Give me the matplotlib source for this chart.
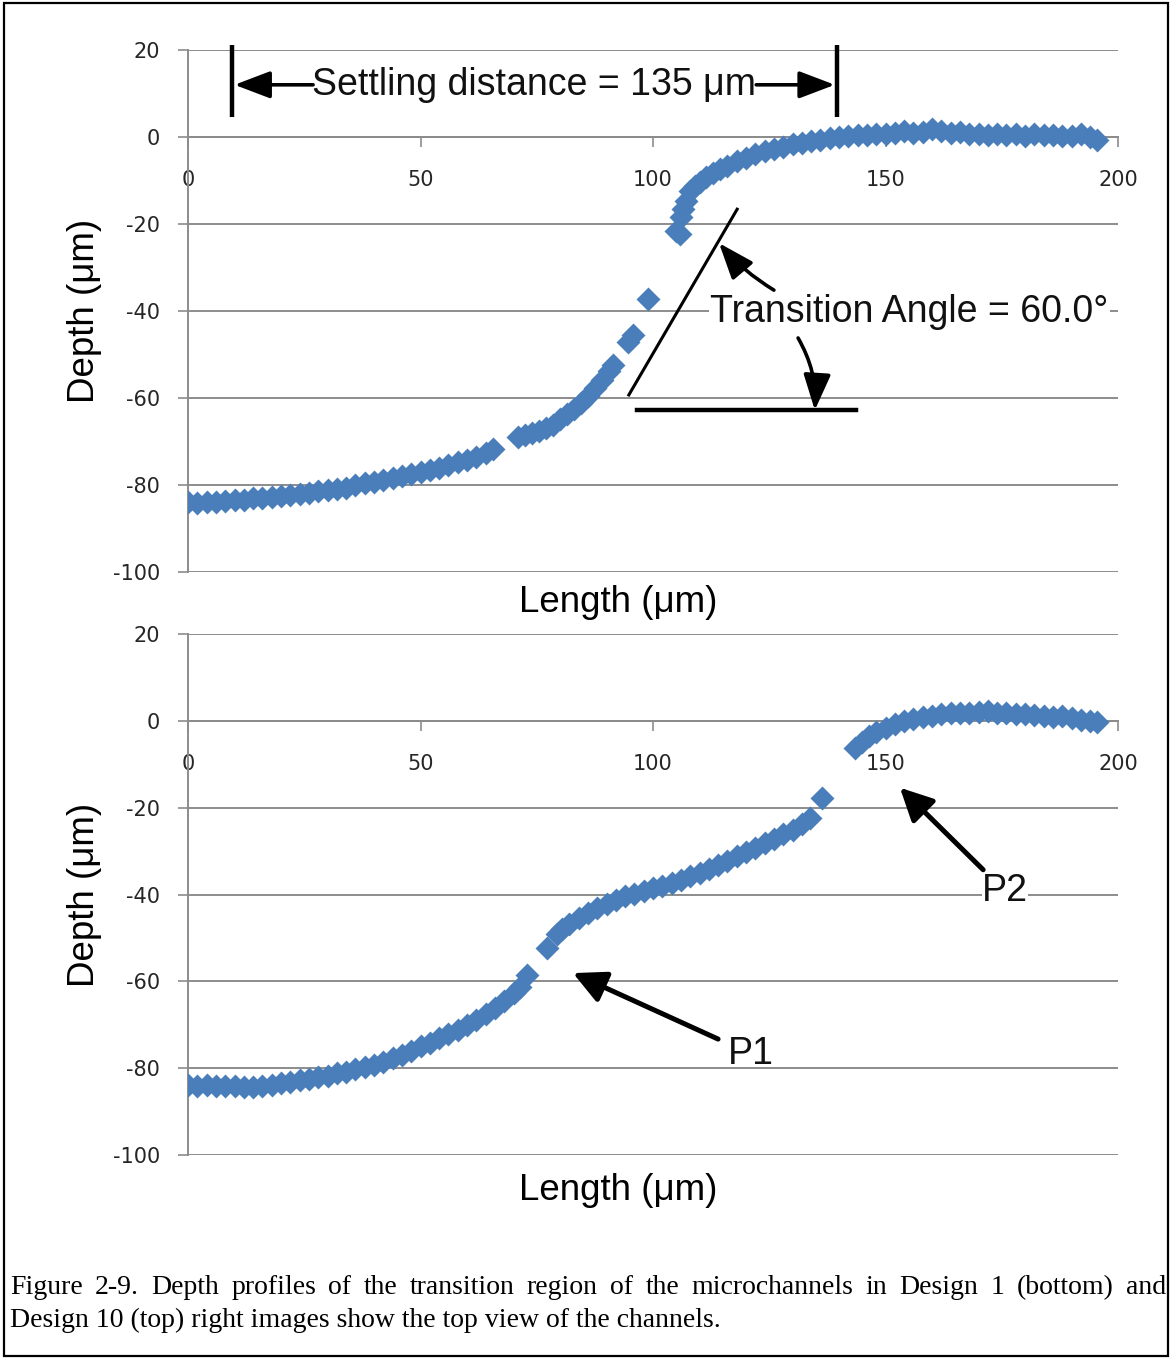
import matplotlib
matplotlib.use("Agg")
import matplotlib.pyplot as plt
from matplotlib.patches import Rectangle

plt.rcParams['axes.unicode_minus'] = False

# ---------------- data ----------------
# Design 10 (top panel)
top_x = [0, 2, 4, 6, 8, 10, 12, 14, 16, 18, 20, 22, 24, 26, 28, 30, 32, 34, 36, 38,
         40, 42, 44, 46, 48, 50, 52, 54, 56, 58, 60, 62, 64, 65.5,
         71, 72.5, 74, 75.5, 77, 78.5, 80, 81.5, 83, 84.5, 86, 87.5, 89, 90.5, 91.5,
         94.6, 95.7, 98.9, 105.0, 105.8,
         106, 106.5, 107, 108, 109, 110, 111.5, 113, 114.5, 116, 118, 120, 122, 124,
         126, 128, 130, 132, 134, 136, 138, 140, 142, 144, 146, 148, 150, 152, 154,
         156, 158, 160, 162, 164, 166, 168, 170, 172, 174, 176, 178, 180, 182, 184,
         186, 188, 190, 192, 194, 195.5]
top_y = [-84.0, -84.2, -84.0, -83.8, -83.7, -83.5, -83.4, -83.1, -82.9, -82.7, -82.6, -82.3,
         -82.1, -81.8, -81.4, -81.2, -80.9, -80.6, -80.1, -79.6, -79.3, -78.9, -78.5, -78.0,
         -77.5, -77.1, -76.6, -76.0, -75.4, -74.8, -74.3, -73.6, -72.6, -71.8,
         -69.0, -68.4, -68.0, -67.5, -66.9, -66.1, -64.8, -63.6, -62.5, -61.2, -59.5, -57.6,
         -55.8, -53.8, -52.3,
         -47.1, -45.5, -37.2, -21.6, -22.4,
         -18.4, -16.5, -14.8, -12.5, -11.2, -10.3, -9.2, -8.2, -7.3, -6.6, -5.6, -4.8, -4.0,
         -3.3, -2.8, -2.2, -1.6, -1.3, -0.9, -0.6, -0.2, 0.0, 0.3, 0.5, 0.4, 0.8, 0.7, 1.0,
         1.4, 0.9, 1.2, 1.8, 1.3, 0.9, 1.1, 0.6, 0.7, 0.4, 0.8, 0.5, 0.6, 0.3, 0.7, 0.4,
         0.5, 0.2, 0.3, 0.6, 0.1, -0.6]

# Design 1 (bottom panel)
bot_x = [0, 2, 4, 6, 8, 10, 12, 14, 16, 18, 20, 22, 24, 26, 28, 30, 32, 34, 36, 38,
         40, 42, 44, 46, 48, 50, 52, 54, 56, 58, 60, 62, 64, 66, 68, 70, 71.5, 73,
         77.2,
         79.3, 80.5, 82, 84, 86, 88, 90, 92, 94, 96, 98, 100, 102, 104, 106, 108, 110,
         112, 114, 116, 118, 120, 122, 124, 126, 128, 130, 132, 133.8,
         136.4,
         143.5, 145, 146.5, 148, 150, 152, 154, 156, 158, 160, 162, 164, 166, 168, 170,
         172, 174, 176, 178, 180, 182, 184, 186, 188, 190, 192, 194, 195.5]
bot_y = [-83.9, -84.1, -83.9, -84.2, -84.0, -84.1, -84.3, -84.4, -84.2, -83.8, -83.4, -83.2,
         -82.8, -82.5, -82.1, -81.7, -81.2, -80.8, -80.3, -79.8, -79.3, -78.6, -77.7, -76.9,
         -76.0, -75.0, -74.1, -73.1, -72.2, -71.2, -70.0, -68.9, -67.6, -66.2, -64.6, -62.8,
         -61.2, -58.5,
         -52.3,
         -49.1, -48.0, -46.8, -45.5, -44.3, -43.2, -42.2, -41.2, -40.4, -39.8, -39.1, -38.6,
         -38.0, -37.4, -36.6, -35.8, -35.0, -34.2, -33.3, -32.2, -31.2, -30.3, -29.4, -28.2,
         -27.2, -26.1, -25.1, -23.8, -22.4,
         -17.7,
         -6.3, -4.8, -3.6, -2.6, -1.6, -0.8, -0.1, 0.5, 0.9, 1.2, 1.5, 1.7, 1.8, 1.9, 2.1,
         2.2, 1.9, 1.8, 1.6, 1.5, 1.3, 1.0, 0.8, 1.1, 0.6, 0.3, -0.1, -0.3]

x_ticks = [0, 50, 100, 150, 200]
y_ticks = [-100, -80, -60, -40, -20, 0, 20]
x_label = "Length (\u03bcm)"
y_label = "Depth (\u03bcm)"
caption_line1 = ("Figure 2-9. Depth profiles of the transition region of the microchannels "
                 "in Design 1 (bottom) and")
caption_line2 = "Design 10 (top) right images show the top view of the channels."

# ---------------- styling ----------------
W, H = 1171, 1359
BLUE = '#4A7EBB'
GRID = '#8C8C8C'
TICK_FONT = 'DejaVu Sans'
LABEL_FONT = 'Liberation Sans'

fig = plt.figure(figsize=(W / 100, H / 100), dpi=100)
ax1 = fig.add_axes([188 / W, 1 - 572 / H, 930 / W, 522 / H])
ax2 = fig.add_axes([188 / W, 1 - 1155 / H, 930 / W, 521 / H])


def style(ax, xs, ys, xlabel_y):
    ax.set_xlim(0, 200)
    ax.set_ylim(-100, 20)
    ax.set_axisbelow(True)
    ax.grid(axis='y', color=GRID, lw=1.4)
    ax.grid(axis='x', visible=False)
    ax.set_xticks(x_ticks)
    ax.set_yticks(y_ticks)
    for s in ('top', 'right'):
        ax.spines[s].set_visible(False)
    ax.spines['left'].set_color(GRID)
    ax.spines['left'].set_linewidth(1.4)
    ax.spines['bottom'].set_position(('data', 0))
    ax.spines['bottom'].set_color(GRID)
    ax.spines['bottom'].set_linewidth(1.4)
    ax.tick_params(axis='y', length=7, width=1.2, color=GRID, pad=13,
                   labelsize=15, labelcolor='#262626')
    ax.tick_params(axis='x', direction='out', length=7, width=1.2, color=GRID, pad=17,
                   labelsize=15, labelcolor='#262626')
    for lab in ax.get_xticklabels() + ax.get_yticklabels():
        lab.set_fontfamily(TICK_FONT)
    ax.plot(xs, ys, 'D', ms=12, color=BLUE, mec='none', zorder=3)
    ax.text(0.463, xlabel_y, x_label, transform=ax.transAxes, ha='center', va='center',
            fontsize=26.5, family=LABEL_FONT)
    ax.text(-0.111, 0.5, y_label, transform=ax.transAxes, ha='center', va='center',
            rotation=90, fontsize=26.5, family=LABEL_FONT)


style(ax1, top_x, top_y, -0.0575)
style(ax2, bot_x, bot_y, -0.0672)

# ---------------- annotations, top panel ----------------
ANN = dict(fontsize=27, family=LABEL_FONT, color='#111111')
bar_y = (4.6, 21.1)
settle_left, settle_right = 9.5, 139.6
settle_y = 12.0
for bx in (settle_left, settle_right):
    ax1.plot([bx, bx], bar_y, color='black', lw=3.2, solid_capstyle='butt',
             clip_on=False, zorder=5)
ax1.text(74.5, settle_y, "Settling distance = 135 \u03bcm", ha='center', va='center',
         zorder=6, **ANN)
arrow_kw = dict(arrowstyle='-|>,head_length=1.0,head_width=0.38', lw=2.6, color='black',
                mutation_scale=22, shrinkA=0, shrinkB=0)
ax1.annotate('', xy=(settle_left + 0.5, settle_y), xytext=(26.9, settle_y),
             arrowprops=arrow_kw, annotation_clip=False, zorder=5)
ax1.annotate('', xy=(settle_right - 0.5, settle_y), xytext=(122.2, settle_y),
             arrowprops=arrow_kw, annotation_clip=False, zorder=5)

ax1.plot([94.8, 118.1], [-59.3, -16.6], color='black', lw=2.2, zorder=5)
ax1.plot([96.6, 143.7], [-62.8, -62.8], color='black', lw=3.2, zorder=5)
ax1.text(112.3, -40.2, "Transition Angle = 60.0\u00b0", ha='left', va='center', zorder=6,
         bbox=dict(fc='white', ec='none', pad=1), **ANN)
ax1.annotate('', xy=(114.2, -24.4), xytext=(126.0, -35.2),
             arrowprops=dict(arrow_kw, connectionstyle='arc3,rad=-0.08'), zorder=5)
ax1.annotate('', xy=(134.8, -62.8), xytext=(131.2, -46.2),
             arrowprops=dict(arrow_kw, connectionstyle='arc3,rad=-0.15'), zorder=5)

# ---------------- annotations, bottom panel ----------------
thick = dict(arrow_kw, lw=3.6, arrowstyle='-|>,head_length=0.9,head_width=0.45')
ax2.annotate('', xy=(82.8, -58.1), xytext=(114.0, -73.3), arrowprops=thick, zorder=5)
ax2.text(121.1, -76.7, "P1", ha='center', va='center', zorder=6, **ANN)
ax2.annotate('', xy=(153.1, -15.4), xytext=(171.0, -34.3), arrowprops=thick, zorder=5)
ax2.text(175.7, -39.1, "P2", ha='center', va='center', zorder=6,
         bbox=dict(fc='white', ec='none', pad=0), **ANN)

# ---------------- caption ----------------
CAP = dict(fontsize=20, family='Liberation Serif', va='center', ha='left')
renderer = fig.canvas.get_renderer()
words = caption_line1.split(' ')
left_px, right_px = 10, 1166
y1 = 1 - 1288 / H
texts = [fig.text(0, y1, w, **CAP) for w in words]
widths = [t.get_window_extent(renderer).width for t in texts]
gap = (right_px - left_px - sum(widths)) / (len(words) - 1)
xpos = left_px
for t, wd in zip(texts, widths):
    t.set_x(xpos / W)
    xpos += wd + gap
fig.text(left_px / W, 1 - 1320 / H, caption_line2, **CAP)

# border
fig.add_artist(Rectangle((4 / W, 3 / H), (1168 - 4) / W, (1356 - 3) / H, fill=False,
                         lw=1.6, ec='black', transform=fig.transFigure))

fig.savefig('out.png', dpi=100)
